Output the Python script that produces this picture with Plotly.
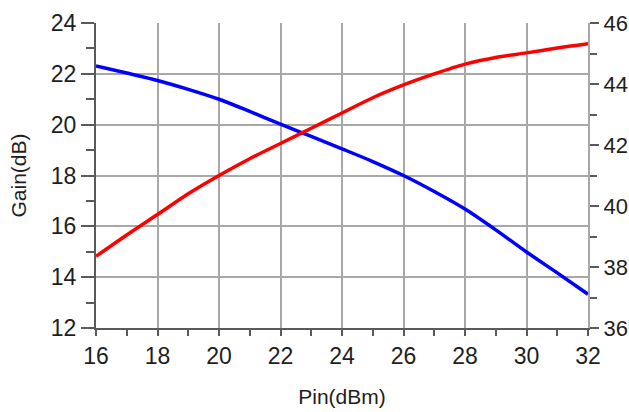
import plotly.graph_objects as go

# Input power sweep (dBm)
pin_dbm = [16, 17, 18, 19, 20, 21, 22, 23, 24, 25, 26, 27, 28, 29, 30, 31, 32]
# Gain (dB), left axis
gain_db = [22.31, 22.03, 21.74, 21.39, 21.0, 20.52, 20.02, 19.54, 19.05, 18.55,
           18.0, 17.37, 16.68, 15.86, 14.99, 14.17, 13.33]
# Output power (dBm), right axis
pout_dbm = [38.35, 39.05, 39.72, 40.4, 41.0, 41.55, 42.05, 42.55, 43.05, 43.55,
            43.97, 44.33, 44.65, 44.87, 45.02, 45.18, 45.32]

x_ticks = [16, 18, 20, 22, 24, 26, 28, 30, 32]
gain_ticks = [12, 14, 16, 18, 20, 22, 24]
pout_ticks = [36, 38, 40, 42, 44, 46]

FONT = "Arial, Liberation Sans, sans-serif"
GRID = "#a8a8a8"
AXIS = "#5a5a5a"
TXT = "#1e1e1e"

fig = go.Figure()
fig.add_trace(go.Scatter(x=pin_dbm, y=gain_db, mode="lines",
                         line=dict(color="#0000ff", width=3.5, shape="spline", smoothing=0.8),
                         yaxis="y", showlegend=False))
fig.add_trace(go.Scatter(x=pin_dbm, y=pout_dbm, mode="lines",
                         line=dict(color="#ff0000", width=3.5, shape="spline", smoothing=0.8),
                         yaxis="y2", showlegend=False))

fig.update_layout(
    width=629, height=412,
    margin=dict(l=96, r=41, t=23, b=84),
    paper_bgcolor="white", plot_bgcolor="white",
    font=dict(family=FONT, color=TXT),
    xaxis=dict(
        range=[16, 32], tickvals=x_ticks, ticktext=[str(v) for v in x_ticks],
        automargin=False,
        showgrid=True, gridcolor=GRID, gridwidth=2,
        showline=True, linecolor=AXIS, linewidth=2, mirror=False,
        ticks="outside", ticklen=6, tickwidth=1.5, tickcolor=AXIS,
        minor=dict(dtick=1, ticks="outside", ticklen=6, tickwidth=1.5,
                   tickcolor=AXIS, showgrid=False),
        tickfont=dict(size=23, color=TXT),
        title=dict(text="Pin(dBm)", font=dict(size=21, color=TXT), standoff=22),
        zeroline=False,
    ),
    yaxis=dict(
        range=[12, 24], tickvals=gain_ticks, ticktext=[str(v) for v in gain_ticks],
        automargin=False,
        showgrid=True, gridcolor=GRID, gridwidth=2,
        showline=True, linecolor=AXIS, linewidth=2,
        ticks="outside", ticklen=13, tickwidth=1.5, tickcolor=AXIS,
        minor=dict(dtick=1, ticks="outside", ticklen=8, tickwidth=1.5,
                   tickcolor=AXIS, showgrid=False),
        tickfont=dict(size=23, color=TXT),
        title=dict(text="Gain(dB)", font=dict(size=21, color=TXT), standoff=18),
        zeroline=False,
    ),
    yaxis2=dict(
        range=[36, 46], tickvals=pout_ticks, ticktext=[str(v) for v in pout_ticks],
        overlaying="y", side="right", anchor="x",
        automargin=False,
        showgrid=False,
        showline=True, linecolor=GRID, linewidth=2,
        ticks="outside", ticklen=9, tickwidth=1.5, tickcolor=AXIS,
        minor=dict(dtick=1, ticks="outside", ticklen=7, tickwidth=1.5,
                   tickcolor=AXIS, showgrid=False),
        tickfont=dict(size=22, color=TXT),
        zeroline=False,
    ),
)

fig.write_html("out.html")
